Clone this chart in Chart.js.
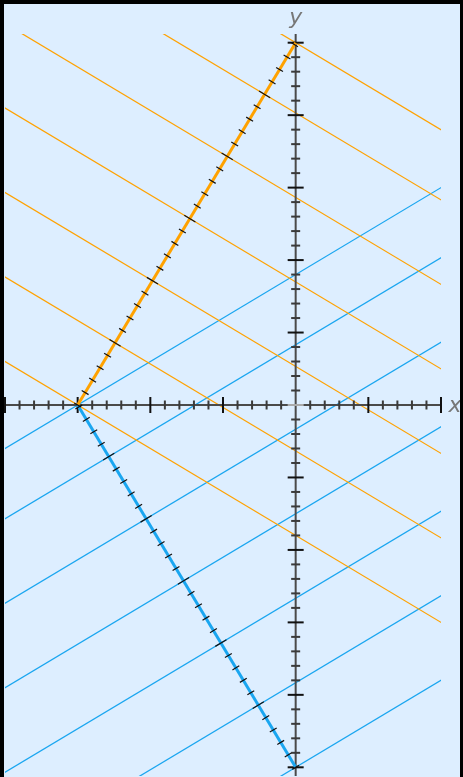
<!DOCTYPE html>
<html>
<head>
<meta charset="utf-8">
<script src="https://cdn.jsdelivr.net/npm/chart.js@4.4.0/dist/chart.umd.min.js"></script>
<style>
  html, body { margin:0; padding:0; background:#000; overflow:hidden; }
  #wrap { position:absolute; left:4px; top:4px; width:456px; height:773px; background:#ddeeff; }
</style>
</head>
<body>
<div id="wrap"><canvas id="plane" width="456" height="773"></canvas></div>
<script>
// plane window and axis ticks
const xRange = [-4, 2];
const yRange = [-5.12, 5.12];
const xMajorTicks = [-4, -3, -2, -1, 0, 1, 2];
const yMajorTicks = [-5, -4, -3, -2, -1, 0, 1, 2, 3, 4, 5];
const minorStep = 0.2;

// the two segments, each listed from the point its marks are measured from
const orangeSegment = [{x: -3, y: 0}, {x: 0, y: 5}];
const blueSegment = [{x: 0, y: -5}, {x: -3, y: 0}];
// whole-unit marks along each segment that get a perpendicular line
const levelMarks = [0, 1, 2, 3, 4, 5];

const ORANGE = '#ffa200';
const BLUE = '#1aa6f0';

function segLen(s) { return Math.hypot(s[1].x - s[0].x, s[1].y - s[0].y); }
function pointAt(s, d) {
  const L = segLen(s);
  return {x: s[0].x + (s[1].x - s[0].x) * d / L, y: s[0].y + (s[1].y - s[0].y) * d / L};
}
// long line through the mark at distance d, perpendicular to the segment (chart clips it)
function perpLine(s, d) {
  const p = pointAt(s, d), L = segLen(s);
  const ux = (s[1].x - s[0].x) / L, uy = (s[1].y - s[0].y) / L;
  const t = 20;
  return [{x: p.x - uy * t, y: p.y + ux * t}, {x: p.x + uy * t, y: p.y - ux * t}];
}

function thinLines(s, color) {
  return levelMarks.concat([segLen(s)]).map(d => ({
    data: perpLine(s, d), borderColor: color, borderWidth: 1.25,
    showLine: true, pointRadius: 0, fill: false
  }));
}

const datasets = [
  {data: orangeSegment, borderColor: ORANGE, borderWidth: 3, showLine: true, pointRadius: 0},
  {data: blueSegment, borderColor: BLUE, borderWidth: 3, showLine: true, pointRadius: 0},
  ...thinLines(orangeSegment, ORANGE),
  ...thinLines(blueSegment, BLUE)
];

function tickValues(min, max) {
  const n = Math.round((max - min) / minorStep);
  const out = [];
  for (let i = 0; i <= n; i++) out.push(+(min + i * minorStep).toFixed(6));
  return out;
}

function drawAxes(chart) {
  const ctx = chart.ctx, a = chart.chartArea;
  const xs = chart.scales.x, ys = chart.scales.y;
  const x0 = xs.getPixelForValue(0), y0 = ys.getPixelForValue(0);
  ctx.save();
  ctx.strokeStyle = '#4a4a4a';
  ctx.lineWidth = 2;
  ctx.beginPath();
  ctx.moveTo(xs.getPixelForValue(xRange[0]), y0);
  ctx.lineTo(xs.getPixelForValue(xRange[1]), y0);
  ctx.moveTo(x0, a.top);
  ctx.lineTo(x0, a.bottom);
  ctx.stroke();

  const xMajor = xMajorTicks, yMajor = yMajorTicks;
  tickValues(xMajor[0], xMajor[xMajor.length - 1]).forEach(v => {
    if (v === 0) return;
    const big = xMajor.includes(v);
    const px = xs.getPixelForValue(v);
    ctx.strokeStyle = big ? '#111' : '#3a3a3a';
    const h = big ? 8 : 4.5;
    ctx.beginPath(); ctx.moveTo(px, y0 - h); ctx.lineTo(px, y0 + h); ctx.stroke();
  });
  tickValues(yMajor[0], yMajor[yMajor.length - 1]).forEach(v => {
    const big = yMajor.includes(v);
    const py = ys.getPixelForValue(v);
    ctx.strokeStyle = v === 0 ? '#aaaaaa' : (big ? '#111' : '#3a3a3a');
    const w = big ? 8 : 4.5;
    ctx.beginPath(); ctx.moveTo(x0 - w, py); ctx.lineTo(x0 + w, py); ctx.stroke();
  });
  ctx.restore();
}

function drawHatches(chart, s) {
  const ctx = chart.ctx, xs = chart.scales.x, ys = chart.scales.y;
  const L = segLen(s);
  const ax = xs.getPixelForValue(s[0].x), ay = ys.getPixelForValue(s[0].y);
  const bx = xs.getPixelForValue(s[1].x), by = ys.getPixelForValue(s[1].y);
  const len = Math.hypot(bx - ax, by - ay);
  const nx = -(by - ay) / len, ny = (bx - ax) / len;
  ctx.save();
  ctx.strokeStyle = '#111';
  ctx.lineWidth = 1.2;
  const n = Math.floor(L / minorStep + 1e-6);
  for (let i = 0; i <= n; i++) {
    const d = i * minorStep;
    const big = i % 5 === 0 && i > 0;
    const h = big ? 6.5 : 4;
    const px = ax + (bx - ax) * d / L, py = ay + (by - ay) * d / L;
    ctx.beginPath();
    ctx.moveTo(px - nx * h, py - ny * h);
    ctx.lineTo(px + nx * h, py + ny * h);
    ctx.stroke();
  }
  ctx.restore();
}

const planePlugin = {
  id: 'plane',
  beforeDatasetDraw(chart, args) {
    if (args.index === 1) drawAxes(chart);
  },
  afterDatasetsDraw(chart) {
    drawHatches(chart, orangeSegment);
    drawHatches(chart, blueSegment);
    const ctx = chart.ctx, xs = chart.scales.x, ys = chart.scales.y;
    ctx.save();
    ctx.fillStyle = '#777';
    ctx.font = 'oblique 22px "DejaVu Sans"';
    ctx.textAlign = 'center';
    ctx.textBaseline = 'alphabetic';
    ctx.fillText('y', xs.getPixelForValue(0), chart.chartArea.top - 10);
    ctx.fillText('x', xs.getPixelForValue(xRange[1]) + 14, ys.getPixelForValue(0) + 7);
    ctx.restore();
  }
};

new Chart(document.getElementById('plane'), {
  type: 'scatter',
  data: {datasets},
  options: {
    responsive: false,
    animation: false,
    devicePixelRatio: 1,
    layout: {padding: {left: 1, right: 19, top: 30, bottom: 1}},
    scales: {
      x: {type: 'linear', min: xRange[0], max: xRange[1], display: false},
      y: {type: 'linear', min: yRange[0], max: yRange[1], display: false}
    },
    plugins: {legend: {display: false}, tooltip: {enabled: false}}
  },
  plugins: [planePlugin]
});
</script>
</body>
</html>
